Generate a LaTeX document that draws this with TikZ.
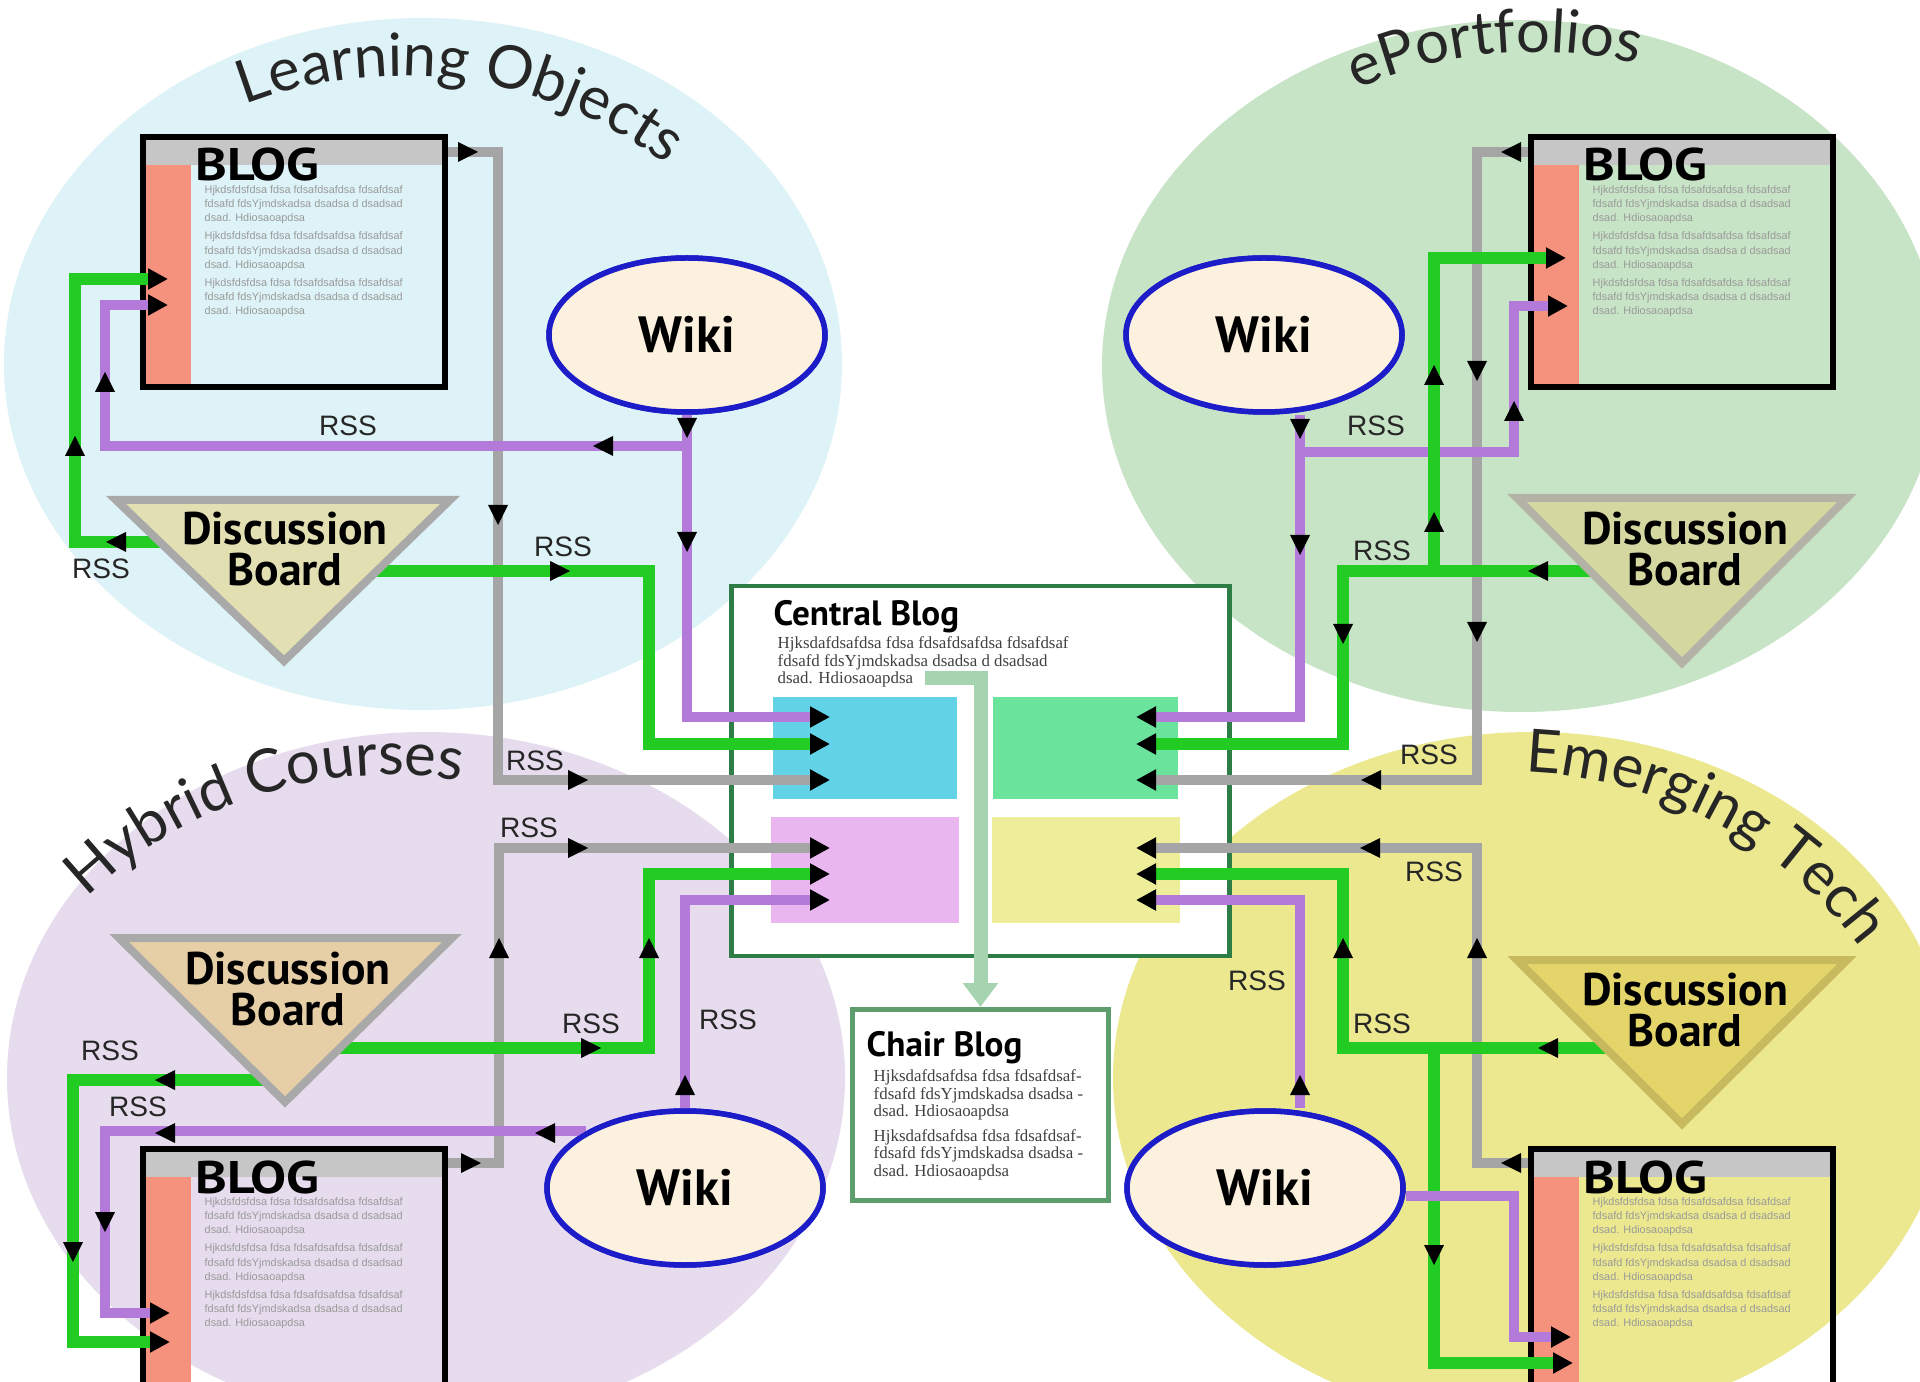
\documentclass[tikz,border=0pt]{standalone}
\usepackage{fontspec}
\setmainfont{Liberation Serif}
\newfontfamily\rssfont{Liberation Sans}
\newfontfamily\boldfont{PT Sans}
\newfontfamily\arcfont{Lato}
\usetikzlibrary{arrows.meta,calc,shapes.geometric,decorations.text}

\definecolor{loBack}{HTML}{DDF3F7}
\definecolor{epBack}{HTML}{C8E4C6}
\definecolor{hcBack}{HTML}{E6DCEE}
\definecolor{etBack}{HTML}{ECE88F}
\definecolor{rssGreen}{HTML}{22CC22}
\definecolor{rssPurple}{HTML}{B37AD9}
\definecolor{rssGray}{HTML}{A5A5A5}
\definecolor{blogSide}{HTML}{F4927D}
\definecolor{blogBar}{HTML}{C6C6C6}
\definecolor{wikiBlue}{HTML}{1C1CC8}
\definecolor{wikiFill}{HTML}{FBF1DE}
\definecolor{cbGreen}{HTML}{2F7D46}
\definecolor{chairGreen}{HTML}{5E9E6D}
\definecolor{linkGreen}{HTML}{A6D4B0}
\definecolor{panelA}{HTML}{62D3E6}
\definecolor{panelB}{HTML}{6AE49C}
\definecolor{panelC}{HTML}{EAB6F0}
\definecolor{panelD}{HTML}{EEEE9A}
\definecolor{dbLO}{HTML}{E2DFB3}
\definecolor{dbEP}{HTML}{D4D7A0}
\definecolor{dbHC}{HTML}{E6CFA6}
\definecolor{dbET}{HTML}{E4D56A}
\definecolor{dbEdge}{HTML}{A9A9A9}
\definecolor{dbEdgeET}{HTML}{C7B95E}
\definecolor{blurText}{HTML}{9A9A9A}

\newcommand\arcsize{\arcfont\fontsize{17}{17}\selectfont}
\newcommand\tip[3]{\fill[black,shift={(#1,#2)},rotate=#3] (10,0) -- (-10,10) -- (-10,-10) -- cycle;}
\newcommand\blogfill{Hjkdsfdsfdsa fdsa fdsafdsafdsa fdsafdsaf\\fdsafd fdsYjmdskadsa dsadsa d dsadsad\\dsad. Hdiosaoapdsa\\[1.2pt]%
Hjkdsfdsfdsa fdsa fdsafdsafdsa fdsafdsaf\\fdsafd fdsYjmdskadsa dsadsa d dsadsad\\dsad. Hdiosaoapdsa\\[1.2pt]%
Hjkdsfdsfdsa fdsa fdsafdsafdsa fdsafdsaf\\fdsafd fdsYjmdskadsa dsadsa d dsadsad\\dsad. Hdiosaoapdsa}
\newcommand\blogbox[3]{%
  \fill[blogSide] (#2,#3) rectangle +(51,250);
  \fill[blogBar] (#2,#3) rectangle +(302,31);
  \node[blogframe, anchor=north west] (#1) at (#2,#3) {};
  \node[blogtitle, anchor=base west] (#1-title) at ($(#2,#3)+(55,47)$) {\scalebox{1.18}[1]{BLOG}};
  \node[blogtext, anchor=north west] (#1-text) at ($(#2,#3)+(64,51)$) {\blogfill};
}

\tikzset{
  gline/.style={draw=rssGreen, line width=1.2mm},
  pline/.style={draw=rssPurple, line width=1mm},
  kline/.style={draw=rssGray, line width=1mm},
  >={Triangle[length=2mm,width=2mm,color=black]},
  rss/.style={font=\rssfont\fontsize{8}{8}\selectfont, text=black!85, inner sep=0pt},
  blogframe/.style={draw=black, line width=0.6mm, minimum width=30.2mm, minimum height=25mm, inner sep=0pt},
  blogtitle/.style={font=\boldfont\bfseries\fontsize{13}{13}\selectfont, inner sep=0pt},
  blogtext/.style={font=\rssfont\fontsize{3.1}{4}\selectfont, text=blurText, align=left, inner sep=0pt},
  wiki/.style={ellipse, draw=wikiBlue, line width=0.55mm, fill=wikiFill, minimum width=27.6mm, minimum height=15.4mm, font=\boldfont\bfseries\fontsize{14.5}{14.5}\selectfont},
  dbtri/.style={line width=0.8mm, draw=dbEdge},
  dbtext/.style={font=\boldfont\bfseries\fontsize{13}{11.5}\selectfont, align=center, inner sep=0pt},
  headtext/.style={font=\boldfont\bfseries\fontsize{10}{10}\selectfont, inner sep=0pt},
  filltext/.style={font=\fontsize{4.8}{5}\selectfont, text=black!75, align=left, inner sep=0pt},
  arctitle/.style={decorate, decoration={text along path, text align=left, text color=black!85, text={|\arcsize|#1}}},
}

\begin{document}
\begin{tikzpicture}[x=0.1mm, y=-0.1mm]
\fill[white] (0,0) rectangle (1920,1382);
\useasboundingbox (0,0) rectangle (1920,1382);

% the four areas
\fill[loBack] (423,364) ellipse [x radius=419, y radius=346];
\fill[epBack] (1521,366) ellipse [x radius=419, y radius=346];
\fill[hcBack] (426,1078) ellipse [x radius=419, y radius=346];
\fill[etBack] (1532,1078) ellipse [x radius=419, y radius=346];

\path[arctitle=Learning Objects] (402,514) ++(-111:438) arc[start angle=-111, end angle=-30, radius=438];
\path[arctitle=ePortfolios] (1534,489) ++(-114:437) arc[start angle=-114, end angle=-50, radius=437];
\path[arctitle=Hybrid Courses] (390,1212) ++(-134:437) arc[start angle=-134, end angle=-60, radius=437];
\path[arctitle=Emerging Tech] (1510,1209) ++(-88:437) arc[start angle=-88, end angle=-20, radius=437];

% central blog
\node[draw=cbGreen, line width=0.45mm, fill=white, minimum width=49.8mm, minimum height=37mm, inner sep=0pt, anchor=north west] (central) at (729,584) {};
\fill[panelA] (773,697) rectangle (957,799);
\fill[panelB] (993,697) rectangle (1178,799);
\fill[panelC] (771,817) rectangle (959,923);
\fill[panelD] (992,817) rectangle (1180,923);
\node[headtext, anchor=base west] (centralHead) at (773,625) {Central Blog};
\node[filltext, anchor=north west] (centralText) at (777,636) {Hjksdafdsafdsa fdsa fdsafdsafdsa fdsafdsaf\\fdsafd fdsYjmdskadsa dsadsa d dsadsad\\dsad. Hdiosaoapdsa};

% chair blog
\node[draw=chairGreen, line width=0.5mm, fill=white, minimum width=25.6mm, minimum height=19.1mm, inner sep=0pt, anchor=north west] (chair) at (850,1007) {};
\node[headtext, anchor=base west] (chairHead) at (866,1056) {Chair Blog};
\node[filltext, anchor=north west] (chairText) at (873,1069) {Hjksdafdsafdsa fdsa fdsafdsaf-\\fdsafd fdsYjmdskadsa dsadsa -\\dsad. Hdiosaoapdsa\\[2pt]Hjksdafdsafdsa fdsa fdsafdsaf-\\fdsafd fdsYjmdskadsa dsadsa -\\dsad. Hdiosaoapdsa};
\coordinate (cbLink) at (925,678);
\draw[draw=linkGreen, line width=1.4mm, -{Triangle[length=2.4mm,width=3.4mm,color=linkGreen]}] (cbLink) -| (chair.north);

% blogs
\blogbox{loBlog}{140}{134}
\blogbox{epBlog}{1528}{134}
\blogbox{hcBlog}{140}{1146}
\blogbox{etBlog}{1528}{1146}

% wikis and boards (named before the feeds)
\node[wiki] (loWiki) at (687,335) {Wiki};
\node[wiki] (epWiki) at (1264,335) {Wiki};
\node[wiki] (hcWiki) at (685,1188) {Wiki};
\node[wiki] (etWiki) at (1265,1188) {Wiki};

% ports
\coordinate (cbL1) at (830,717); \coordinate (cbL2) at (830,744); \coordinate (cbL3) at (830,780);
\coordinate (cbL4) at (830,848); \coordinate (cbL5) at (830,874); \coordinate (cbL6) at (830,900);
\coordinate (cbR1) at (1136,717); \coordinate (cbR2) at (1136,744); \coordinate (cbR3) at (1136,780);
\coordinate (cbR4) at (1136,848); \coordinate (cbR5) at (1136,874); \coordinate (cbR6) at (1136,900);
\coordinate (loDiscR) at (377,571); \coordinate (loDiscL) at (160,542);
\coordinate (epDiscL) at (1590,571);
\coordinate (hcDiscR) at (340,1048); \coordinate (hcDiscL) at (263,1080);
\coordinate (etDiscL) at (1606,1048);
\coordinate (loBlogG) at (168,279); \coordinate (loBlogP) at (168,305);
\coordinate (epBlogG) at (1566,258); \coordinate (epBlogP) at (1568,306);
\coordinate (hcBlogP) at (170,1313); \coordinate (hcBlogG) at (170,1342);
\coordinate (etBlogP) at (1571,1337); \coordinate (etBlogG) at (1573,1363);

% Learning Objects feeds
\draw[kline, ->] (loBlog.north east |- 0,152) -- (498,152) -- (498,780) -- (cbL3);
\draw[pline, ->] (loWiki.south) -- (687,446) -- (105,446) -- (105,305) -- (loBlogP);
\draw[pline, ->] (687,446) -- (687,717) -- (cbL1);
\draw[gline, ->] (loDiscR) -- (649,571) -- (649,744) -- (cbL2);
\draw[gline, ->] (loDiscL) -- (75,542) -- (75,279) -- (loBlogG);
\tip{468}{152}{0} \tip{498}{515}{-90} \tip{578}{780}{0}
\tip{687}{428}{-90} \tip{603}{446}{180} \tip{105}{382}{90} \tip{687}{542}{-90}
\tip{560}{571}{0} \tip{116}{542}{180} \tip{75}{446}{90}
\node[rss] (loRss1) at (348,426) {RSS};
\node[rss] (loRss2) at (563,547) {RSS};
\node[rss] (loRss3) at (101,569) {RSS};
\node[rss] (loRss4) at (535,761) {RSS};

% Hybrid Courses feeds
\draw[kline, ->] (hcBlog.north east |- 0,1163) -- (499,1163) -- (499,848) -- (cbL4);
\draw[gline, ->] (hcDiscR) -- (649,1048) -- (649,874) -- (cbL5);
\draw[gline, ->] (hcDiscL) -- (73,1080) -- (73,1342) -- (hcBlogG);
\draw[pline, ->] (hcWiki.north) -- (685,900) -- (cbL6);
\draw[pline, ->] (hcWiki.150) -| (105,1313) -- (hcBlogP);
\tip{471}{1163}{0} \tip{499}{948}{90} \tip{578}{848}{0}
\tip{591}{1048}{0} \tip{649}{948}{90}
\tip{165}{1080}{180} \tip{73}{1252}{-90}
\tip{685}{1085}{90}
\tip{545}{1133}{180} \tip{165}{1133}{180} \tip{105}{1222}{-90}
\node[rss] (hcRss1) at (529,828) {RSS};
\node[rss] (hcRss2) at (591,1024) {RSS};
\node[rss] (hcRss3) at (110,1051) {RSS};
\node[rss] (hcRss4) at (138,1107) {RSS};
\node[rss] (hcRss5) at (728,1020) {RSS};

% ePortfolios feeds
\draw[kline, ->] (epBlog.north west |- 0,152) -- (1477,152) -- (1477,780) -- (cbR3);
\draw[pline, ->] ($(epWiki.south)+(36,0)$) |- (1514,452) -- (1514,306) -- (epBlogP);
\draw[pline, ->] (1300,452) -- (1300,717) -- (cbR1);
\draw[gline, ->] (epDiscL) -- (1343,571) -- (1343,744) -- (cbR2);
\draw[gline, ->] (1434,571) -- (1434,258) -- (epBlogG);
\tip{1511}{152}{180} \tip{1477}{371}{-90} \tip{1477}{632}{-90} \tip{1371}{780}{180}
\tip{1300}{429}{-90} \tip{1514}{411}{90} \tip{1300}{545}{-90}
\tip{1538}{571}{180} \tip{1343}{634}{-90} \tip{1434}{522}{90} \tip{1434}{375}{90}
\node[rss] (epRss1) at (1376,426) {RSS};
\node[rss] (epRss2) at (1382,551) {RSS};
\node[rss] (epRss3) at (1429,755) {RSS};

% Emerging Tech feeds
\draw[kline, ->] (etBlog.north west |- 0,1163) -- (1477,1163) -- (1477,848) -- (cbR4);
\draw[gline, ->] (etDiscL) -- (1343,1048) -- (1343,874) -- (cbR5);
\draw[gline, ->] (1434,1048) -- (1434,1363) -- (etBlogG);
\draw[pline, ->] ($(etWiki.north)+(35,0)$) -- (1300,900) -- (cbR6);
\draw[pline, ->] ($(etWiki.east)+(0,8)$) -| (1514,1337) -- (etBlogP);
\tip{1511}{1163}{180} \tip{1477}{948}{90} \tip{1370}{848}{180}
\tip{1548}{1048}{180} \tip{1343}{948}{90} \tip{1434}{1255}{-90}
\tip{1300}{1085}{90}
\node[rss] (etRss1) at (1434,872) {RSS};
\node[rss] (etRss2) at (1257,981) {RSS};
\node[rss] (etRss3) at (1382,1024) {RSS};

% discussion boards
\filldraw[dbtri, fill=dbLO] (116,500) -- (450,500) -- (284,661) -- cycle;
\node[dbtext] (loDisc) at (285,549) {Discussion\\Board};
\filldraw[dbtri, fill=dbEP, draw=dbEdge!80!dbEP] (1517,498) -- (1847,498) -- (1682,663) -- cycle;
\node[dbtext] (epDisc) at (1685,549) {Discussion\\Board};
\filldraw[dbtri, fill=dbHC] (119,938) -- (452,938) -- (285,1102) -- cycle;
\node[dbtext] (hcDisc) at (288,989) {Discussion\\Board};
\filldraw[dbtri, fill=dbET, draw=dbEdgeET] (1517,960) -- (1847,960) -- (1682,1124) -- cycle;
\node[dbtext] (etDisc) at (1685,1010) {Discussion\\Board};

% wikis on top of the feed ends
\node[wiki] at (loWiki) {Wiki};
\node[wiki] at (epWiki) {Wiki};
\node[wiki] at (hcWiki) {Wiki};
\node[wiki] at (etWiki) {Wiki};
\end{tikzpicture}
\end{document}
